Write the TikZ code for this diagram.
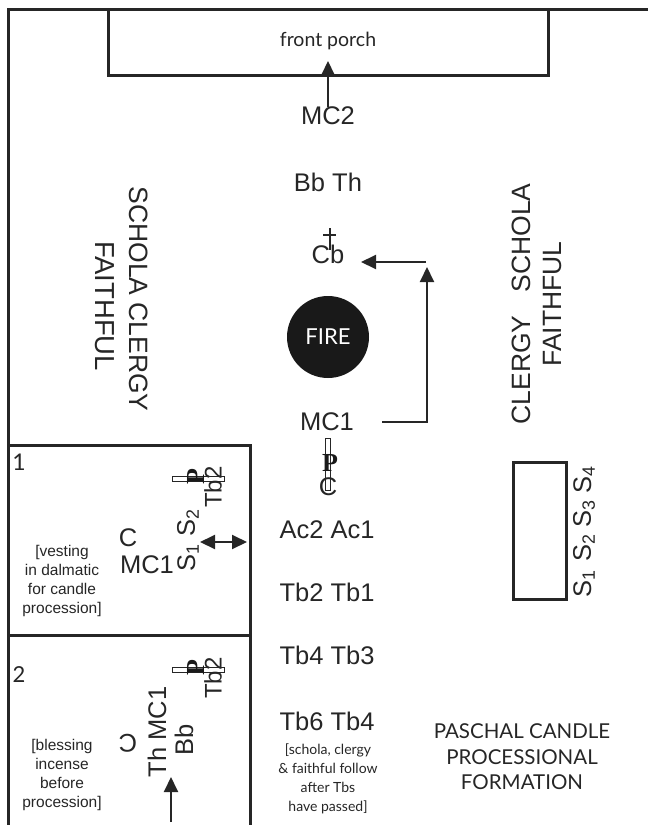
\documentclass[tikz,border=0pt]{standalone}
\usepackage{fontspec}
\setmainfont{Liberation Sans}
\newfontfamily\gillfont{Lato}
\newfontfamily\candlefont{Liberation Serif}
\usetikzlibrary{arrows.meta}
\tikzset{
    wall/.style={line width=3pt, draw=black!85},
    boxWall/.style={wall, draw, inner sep=0pt, outer sep=0pt, anchor=north west},
    flow/.style={line width=2pt, draw=black!85, -{Triangle[length=15pt, width=14pt]}},
    lab/.style={font=\fontsize{25.5}{25.5}\selectfont, text=black!85, inner sep=0pt},
    sideLab/.style={lab, rotate=90},
    groupLab/.style={lab, font=\fontsize{26.5}{26.5}\selectfont},
    noteLab/.style={font=\fontsize{15.5}{19}\selectfont, text=black!85, align=center, inner sep=0pt},
    gillLab/.style={text=black!85, align=center, inner sep=0pt},
    candleBar/.style={draw=black!85, line width=0.8pt, inner sep=0pt},
    candleP/.style={inner sep=0pt, font=\candlefont\bfseries\fontsize{26}{26}\selectfont, text=black!90},
}
\newcommand{\seatS}[1]{S\textsubscript{#1}}
\begin{document}
\begin{tikzpicture}[x=1pt, y=-1pt]
            \useasboundingbox (0, 0) rectangle (648, 825);
            % walls
            \draw[wall] (8, 825) -- (8, 9) -- (648, 9);
            \node[boxWall, minimum width=440pt, minimum height=66pt] (porch) at (108, 9) {};
            \node[gillLab, font=\gillfont\fontsize{19.5}{19.5}\selectfont] (porchLab) at (328, 41) {front porch};
            \node[lab] (mcTwo) at (328, 116) {MC2};
            \coordinate (porchTip) at (328, 61);
            \draw[flow] (mcTwo.north) -- (porchTip);
            \node[lab] (bbTh) at (328, 182) {Bb Th};
            % cross and fire
            \node[lab] (cb) at (328, 254) {Cb};
            \coordinate (crossTop) at (330, 228);
            \coordinate (crossBot) at (330, 250);
            \coordinate (crossL) at (323, 235);
            \coordinate (crossR) at (336, 235);
            \draw[line width=1.8pt, black!85] (crossTop) -- (crossBot) (crossL) -- (crossR);
            \node[circle, fill=black!90, minimum size=82pt, inner sep=0pt, text=white, font=\gillfont\fontsize{22}{22}\selectfont] (fire) at (328, 337) {FIRE};
            \node[lab] (mcOne) at (327, 422) {MC1};
            \coordinate (turn) at (427, 422);
            \coordinate (turnTip) at (427, 267);
            \coordinate (cbStart) at (426, 262);
            \coordinate (cbTip) at (361, 262);
            \draw[flow] (382, 422) -- (turn) -- (turnTip);
            \draw[flow] (cbStart) -- (cbTip);
            % candle in the aisle
            \node[lab] (cAisle) at (328, 487) {C};
            \node[candleBar, minimum width=5pt, minimum height=52pt] (candleA) at (328, 464) {};
            \node[candleP] (pAisle) at (330, 463) {P};
            % the column
            \foreach \name/\txt/\ypos in {acs/Ac2 Ac1/530, tbA/Tb2 Tb1/592, tbB/Tb4 Tb3/655, tbC/Tb6 Tb4/721}
                \node[lab] (\name) at (327, \ypos) {\txt};
            \node[gillLab, font=\gillfont\fontsize{14}{19}\selectfont] (follow) at (328, 779) {[schola, clergy\\\& faithful follow\\after Tbs\\have passed]};
            \node[gillLab, font=\gillfont\fontsize{20.5}{25.5}\selectfont] (title) at (522, 757) {PASCHAL CANDLE\\PROCESSIONAL\\FORMATION};
            % side groups
            \node[groupLab, rotate=-90] (leftA) at (139, 299) {SCHOLA\hspace{7pt}CLERGY};
            \node[groupLab, rotate=-90, font=\fontsize{27.5}{27.5}\selectfont] (leftB) at (105, 306) {FAITHFUL};
            \node[groupLab, rotate=90] (rightA) at (521, 304) {CLERGY\hspace{23pt}SCHOLA};
            \node[groupLab, rotate=90] (rightB) at (553, 304) {FAITHFUL};
            % schola box
            \node[boxWall, minimum width=53pt, minimum height=137pt] (scholaBox) at (513, 462) {};
            \foreach \i/\ypos in {1/584, 2/548, 3/514, 4/480}
                \node[sideLab] (seat\i) at (584, \ypos) {\seatS{\i}};
            % room 1
            \node[boxWall, minimum width=242pt, minimum height=190pt] (roomOne) at (8, 445) {};
            \node[gillLab, font=\gillfont\fontsize{23}{23}\selectfont] (numOne) at (19, 462) {1};
            \node[noteLab] (noteOne) at (62, 581) {[vesting\\in dalmatic\\for candle\\procession]};
            \node[lab] (cOne) at (128, 538) {C};
            \node[lab] (mcRoomOne) at (147, 565) {MC1};
            \node[sideLab] (sOne) at (188, 558) {\seatS{1}};
            \node[sideLab] (sTwo) at (188, 523) {\seatS{2}};
            \node[sideLab, font=\fontsize{24}{24}\selectfont] (tbRoomOne) at (213, 487) {Tb2};
            \node[candleBar, minimum width=52pt, minimum height=5pt] (candleOne) at (198, 479) {};
            \node[candleP, rotate=90] (pOne) at (196, 477) {P};
            \coordinate (swingL) at (200, 542);
            \coordinate (swingR) at (247, 542);
            \draw[flow, {Triangle[length=15pt, width=14pt]}-{Triangle[length=15pt, width=14pt]}] (swingL) -- (swingR);
            % room 2
            \node[boxWall, minimum width=242pt, minimum height=192pt] (roomTwo) at (8, 635) {};
            \node[gillLab, font=\gillfont\fontsize{22}{22}\selectfont] (numTwo) at (19, 675) {2};
            \node[noteLab] (noteTwo) at (62, 775) {[blessing\\incense\\before\\procession]};
            \node[lab, rotate=180] (cTwo) at (128, 743) {C};
            \node[sideLab] (thMc) at (157, 732) {Th MC1};
            \node[sideLab] (bbTwo) at (184, 740) {Bb};
            \node[sideLab, font=\fontsize{24}{24}\selectfont] (tbRoomTwo) at (213, 678) {Tb2};
            \node[candleBar, minimum width=52pt, minimum height=5pt] (candleTwo) at (198, 670) {};
            \node[candleP, rotate=90] (pTwo) at (196, 668) {P};
            \coordinate (inTail) at (171, 822);
            \coordinate (inTip) at (171, 777);
            \draw[flow] (inTail) -- (inTip);
        \end{tikzpicture}
\end{document}
